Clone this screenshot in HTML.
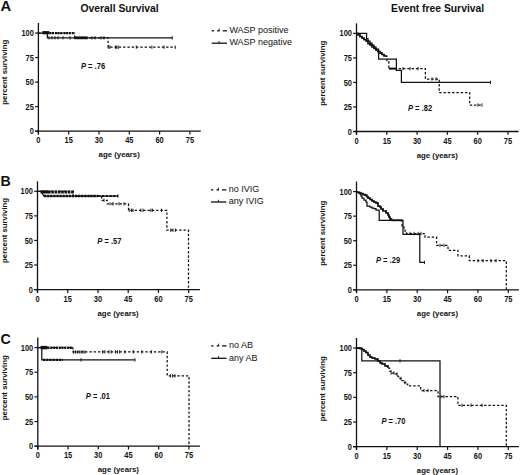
<!DOCTYPE html>
<html><head><meta charset="utf-8"><style>
html,body{margin:0;padding:0;background:#fff;}
svg{display:block;}
text{font-family:"Liberation Sans", sans-serif;fill:#111;}
</style></head><body>
<svg width="520" height="475" viewBox="0 0 520 475">
<rect width="520" height="475" fill="#fff"/>
<text x="0.50" y="10.70" font-size="14.8" font-weight="bold" text-anchor="start">A</text>
<text x="119.60" y="11.60" font-size="10.35" font-weight="bold" text-anchor="middle">Overall Survival</text>
<text x="437.60" y="11.80" font-size="10.35" font-weight="bold" text-anchor="middle">Event free Survival</text>
<line x1="38.40" y1="23.00" x2="38.40" y2="134.50" stroke="#111" stroke-width="1.3"/>
<line x1="35.10" y1="131.20" x2="200.80" y2="131.20" stroke="#111" stroke-width="1.3"/>
<line x1="35.10" y1="131.20" x2="38.40" y2="131.20" stroke="#111" stroke-width="1.2"/>
<text x="0" y="0" font-size="8" font-weight="bold" text-anchor="end" transform="translate(33.80,134.25) scale(0.93,1.12)">0</text>
<line x1="35.10" y1="106.65" x2="38.40" y2="106.65" stroke="#111" stroke-width="1.2"/>
<text x="0" y="0" font-size="8" font-weight="bold" text-anchor="end" transform="translate(33.80,109.70) scale(0.93,1.12)">25</text>
<line x1="35.10" y1="82.10" x2="38.40" y2="82.10" stroke="#111" stroke-width="1.2"/>
<text x="0" y="0" font-size="8" font-weight="bold" text-anchor="end" transform="translate(33.80,85.15) scale(0.93,1.12)">50</text>
<line x1="35.10" y1="57.55" x2="38.40" y2="57.55" stroke="#111" stroke-width="1.2"/>
<text x="0" y="0" font-size="8" font-weight="bold" text-anchor="end" transform="translate(33.80,60.60) scale(0.93,1.12)">75</text>
<line x1="35.10" y1="33.00" x2="38.40" y2="33.00" stroke="#111" stroke-width="1.2"/>
<text x="0" y="0" font-size="8" font-weight="bold" text-anchor="end" transform="translate(33.80,36.05) scale(0.93,1.12)">100</text>
<line x1="38.40" y1="131.20" x2="38.40" y2="134.50" stroke="#111" stroke-width="1.2"/>
<text x="0" y="0" font-size="8" font-weight="bold" text-anchor="middle" transform="translate(38.40,143.20) scale(0.93,1.12)">0</text>
<line x1="68.70" y1="131.20" x2="68.70" y2="134.50" stroke="#111" stroke-width="1.2"/>
<text x="0" y="0" font-size="8" font-weight="bold" text-anchor="middle" transform="translate(68.70,143.20) scale(0.93,1.12)">15</text>
<line x1="99.00" y1="131.20" x2="99.00" y2="134.50" stroke="#111" stroke-width="1.2"/>
<text x="0" y="0" font-size="8" font-weight="bold" text-anchor="middle" transform="translate(99.00,143.20) scale(0.93,1.12)">30</text>
<line x1="129.30" y1="131.20" x2="129.30" y2="134.50" stroke="#111" stroke-width="1.2"/>
<text x="0" y="0" font-size="8" font-weight="bold" text-anchor="middle" transform="translate(129.30,143.20) scale(0.93,1.12)">45</text>
<line x1="159.60" y1="131.20" x2="159.60" y2="134.50" stroke="#111" stroke-width="1.2"/>
<text x="0" y="0" font-size="8" font-weight="bold" text-anchor="middle" transform="translate(159.60,143.20) scale(0.93,1.12)">60</text>
<line x1="189.90" y1="131.20" x2="189.90" y2="134.50" stroke="#111" stroke-width="1.2"/>
<text x="0" y="0" font-size="8" font-weight="bold" text-anchor="middle" transform="translate(189.90,143.20) scale(0.93,1.12)">75</text>
<text x="119.20" y="157.20" font-size="7.8" font-weight="bold" text-anchor="middle">age (years)</text>
<text x="0" y="0" font-size="7.8" font-weight="bold" text-anchor="middle" transform="translate(6.95,72.20) rotate(-90)">percent surviving</text>
<line x1="356.50" y1="23.40" x2="356.50" y2="134.80" stroke="#111" stroke-width="1.3"/>
<line x1="353.20" y1="131.50" x2="518.60" y2="131.50" stroke="#111" stroke-width="1.3"/>
<line x1="353.20" y1="131.50" x2="356.50" y2="131.50" stroke="#111" stroke-width="1.2"/>
<text x="0" y="0" font-size="8" font-weight="bold" text-anchor="end" transform="translate(351.90,134.55) scale(0.93,1.12)">0</text>
<line x1="353.20" y1="106.97" x2="356.50" y2="106.97" stroke="#111" stroke-width="1.2"/>
<text x="0" y="0" font-size="8" font-weight="bold" text-anchor="end" transform="translate(351.90,110.02) scale(0.93,1.12)">25</text>
<line x1="353.20" y1="82.45" x2="356.50" y2="82.45" stroke="#111" stroke-width="1.2"/>
<text x="0" y="0" font-size="8" font-weight="bold" text-anchor="end" transform="translate(351.90,85.50) scale(0.93,1.12)">50</text>
<line x1="353.20" y1="57.92" x2="356.50" y2="57.92" stroke="#111" stroke-width="1.2"/>
<text x="0" y="0" font-size="8" font-weight="bold" text-anchor="end" transform="translate(351.90,60.97) scale(0.93,1.12)">75</text>
<line x1="353.20" y1="33.40" x2="356.50" y2="33.40" stroke="#111" stroke-width="1.2"/>
<text x="0" y="0" font-size="8" font-weight="bold" text-anchor="end" transform="translate(351.90,36.45) scale(0.93,1.12)">100</text>
<line x1="356.50" y1="131.50" x2="356.50" y2="134.80" stroke="#111" stroke-width="1.2"/>
<text x="0" y="0" font-size="8" font-weight="bold" text-anchor="middle" transform="translate(356.50,143.50) scale(0.93,1.12)">0</text>
<line x1="386.80" y1="131.50" x2="386.80" y2="134.80" stroke="#111" stroke-width="1.2"/>
<text x="0" y="0" font-size="8" font-weight="bold" text-anchor="middle" transform="translate(386.80,143.50) scale(0.93,1.12)">15</text>
<line x1="417.10" y1="131.50" x2="417.10" y2="134.80" stroke="#111" stroke-width="1.2"/>
<text x="0" y="0" font-size="8" font-weight="bold" text-anchor="middle" transform="translate(417.10,143.50) scale(0.93,1.12)">30</text>
<line x1="447.40" y1="131.50" x2="447.40" y2="134.80" stroke="#111" stroke-width="1.2"/>
<text x="0" y="0" font-size="8" font-weight="bold" text-anchor="middle" transform="translate(447.40,143.50) scale(0.93,1.12)">45</text>
<line x1="477.70" y1="131.50" x2="477.70" y2="134.80" stroke="#111" stroke-width="1.2"/>
<text x="0" y="0" font-size="8" font-weight="bold" text-anchor="middle" transform="translate(477.70,143.50) scale(0.93,1.12)">60</text>
<line x1="508.00" y1="131.50" x2="508.00" y2="134.80" stroke="#111" stroke-width="1.2"/>
<text x="0" y="0" font-size="8" font-weight="bold" text-anchor="middle" transform="translate(508.00,143.50) scale(0.93,1.12)">75</text>
<text x="437.30" y="157.50" font-size="7.8" font-weight="bold" text-anchor="middle">age (years)</text>
<text x="0" y="0" font-size="7.8" font-weight="bold" text-anchor="middle" transform="translate(324.90,73.20) rotate(-90)">percent surviving</text>
<path d="M38.4,33 H47.4 V37.8 H172.3" fill="none" stroke="#111" stroke-width="1.25"/>
<line x1="49.00" y1="36.10" x2="49.00" y2="39.50" stroke="#111" stroke-width="0.9"/>
<line x1="52.00" y1="36.10" x2="52.00" y2="39.50" stroke="#111" stroke-width="0.9"/>
<line x1="55.00" y1="36.10" x2="55.00" y2="39.50" stroke="#111" stroke-width="0.9"/>
<line x1="58.00" y1="36.10" x2="58.00" y2="39.50" stroke="#111" stroke-width="0.9"/>
<line x1="63.00" y1="36.10" x2="63.00" y2="39.50" stroke="#111" stroke-width="0.9"/>
<line x1="70.00" y1="36.10" x2="70.00" y2="39.50" stroke="#111" stroke-width="0.9"/>
<line x1="75.00" y1="36.10" x2="75.00" y2="39.50" stroke="#111" stroke-width="0.9"/>
<line x1="77.00" y1="36.10" x2="77.00" y2="39.50" stroke="#111" stroke-width="0.9"/>
<line x1="79.00" y1="36.10" x2="79.00" y2="39.50" stroke="#111" stroke-width="0.9"/>
<line x1="81.00" y1="36.10" x2="81.00" y2="39.50" stroke="#111" stroke-width="0.9"/>
<line x1="83.00" y1="36.10" x2="83.00" y2="39.50" stroke="#111" stroke-width="0.9"/>
<line x1="85.00" y1="36.10" x2="85.00" y2="39.50" stroke="#111" stroke-width="0.9"/>
<line x1="87.00" y1="36.10" x2="87.00" y2="39.50" stroke="#111" stroke-width="0.9"/>
<line x1="92.00" y1="36.10" x2="92.00" y2="39.50" stroke="#111" stroke-width="0.9"/>
<line x1="95.00" y1="36.10" x2="95.00" y2="39.50" stroke="#111" stroke-width="0.9"/>
<line x1="101.00" y1="36.10" x2="101.00" y2="39.50" stroke="#111" stroke-width="0.9"/>
<line x1="104.00" y1="36.10" x2="104.00" y2="39.50" stroke="#111" stroke-width="0.9"/>
<line x1="172.30" y1="36.10" x2="172.30" y2="39.50" stroke="#111" stroke-width="0.9"/>
<rect x="42.30" y="31.10" width="7.00" height="3.20" fill="#111"/>
<rect x="75.00" y="36.70" width="12.00" height="2.20" fill="#111"/>
<line x1="49.30" y1="33.20" x2="74.50" y2="33.20" stroke="#111" stroke-width="2.2" stroke-dasharray="2.0,0.8"/>
<path d="M38.4,33 H74.6 V37.8 H108.1 V47.2 H175.3" fill="none" stroke="#111" stroke-width="1.25" stroke-dasharray="2.4,1.9"/>
<line x1="108.70" y1="45.50" x2="108.70" y2="48.90" stroke="#111" stroke-width="0.9"/>
<line x1="109.90" y1="45.50" x2="109.90" y2="48.90" stroke="#111" stroke-width="0.9"/>
<line x1="115.60" y1="45.50" x2="115.60" y2="48.90" stroke="#111" stroke-width="0.9"/>
<line x1="116.80" y1="45.50" x2="116.80" y2="48.90" stroke="#111" stroke-width="0.9"/>
<line x1="118.20" y1="45.50" x2="118.20" y2="48.90" stroke="#111" stroke-width="0.9"/>
<line x1="136.30" y1="45.50" x2="136.30" y2="48.90" stroke="#111" stroke-width="0.9"/>
<line x1="151.90" y1="45.50" x2="151.90" y2="48.90" stroke="#111" stroke-width="0.9"/>
<line x1="164.00" y1="45.50" x2="164.00" y2="48.90" stroke="#111" stroke-width="0.9"/>
<line x1="175.30" y1="45.50" x2="175.30" y2="48.90" stroke="#111" stroke-width="0.9"/>
<text x="0" y="0" font-size="7.9" font-weight="bold" transform="translate(81.00,69.20) scale(0.955,1.1)"><tspan font-style="italic">P</tspan> = .76</text>
<line x1="211.70" y1="30.80" x2="214.00" y2="30.80" stroke="#111" stroke-width="1.3"/>
<line x1="217.20" y1="30.80" x2="219.70" y2="30.80" stroke="#111" stroke-width="1.3"/>
<line x1="222.70" y1="30.80" x2="227.00" y2="30.80" stroke="#111" stroke-width="1.3"/>
<line x1="219.10" y1="28.60" x2="219.10" y2="30.80" stroke="#111" stroke-width="0.9"/>
<text x="229.40" y="33.05" font-size="9.0" font-weight="normal" text-anchor="start" fill="#333">WASP positive</text>
<line x1="211.70" y1="43.20" x2="227.00" y2="43.20" stroke="#111" stroke-width="1.3"/>
<line x1="219.10" y1="41.00" x2="219.10" y2="43.20" stroke="#111" stroke-width="0.9"/>
<text x="229.40" y="45.45" font-size="9.0" font-weight="normal" text-anchor="start" fill="#333">WASP negative</text>
<path d="M356.5,33.4 H366.6 V38.7 H368 V41 H370 V43 H372 V45 H374 V47 H376 V49 H378.6 V59 H396.4 V70.4 H401.4 V82.4 H490.5" fill="none" stroke="#111" stroke-width="1.25"/>
<path d="M356.5,33.4 H358 V35 H360 V36.5 H362 V38 H364 V39.5 H366 V41 H368 V43.5 H370 V45 H372 V47 H374 V48.5 H376 V50 H378 V51.5 H380 V53 H382 V54.5 H384 V56 H386.9 V61.5 H388.8 V68.6 H425.4 V79 H439.2 V92.6 H469.7 V105 H482" fill="none" stroke="#111" stroke-width="1.25" stroke-dasharray="2.4,1.9"/>
<path d="M357,33.6 H358 V35 H360 V36.5 H362 V38 H364 V39.5 H366 V41 H368 V43.5 H370 V45 H372 V47 H374 V48.5 H376 V50 H378 V51.5 H380 V53 H382 V54.5 H384 V56 H386.9" fill="none" stroke="#111" stroke-width="1.7"/>
<path d="M388.8,68.6 H397" fill="none" stroke="#111" stroke-width="2.0"/>
<line x1="490.50" y1="80.70" x2="490.50" y2="84.10" stroke="#111" stroke-width="0.9"/>
<line x1="478.00" y1="103.30" x2="478.00" y2="106.70" stroke="#111" stroke-width="0.9"/>
<line x1="482.00" y1="103.30" x2="482.00" y2="106.70" stroke="#111" stroke-width="0.9"/>
<line x1="432.00" y1="77.30" x2="432.00" y2="80.70" stroke="#111" stroke-width="0.9"/>
<line x1="436.00" y1="77.30" x2="436.00" y2="80.70" stroke="#111" stroke-width="0.9"/>
<line x1="403.00" y1="66.90" x2="403.00" y2="70.30" stroke="#111" stroke-width="0.9"/>
<line x1="410.00" y1="66.90" x2="410.00" y2="70.30" stroke="#111" stroke-width="0.9"/>
<line x1="418.00" y1="66.90" x2="418.00" y2="70.30" stroke="#111" stroke-width="0.9"/>
<text x="0" y="0" font-size="7.9" font-weight="bold" transform="translate(408.00,111.10) scale(0.955,1.1)"><tspan font-style="italic">P</tspan> = .82</text>
<text x="0.40" y="186.40" font-size="14.2" font-weight="bold" text-anchor="start">B</text>
<line x1="37.50" y1="181.30" x2="37.50" y2="292.90" stroke="#111" stroke-width="1.3"/>
<line x1="34.20" y1="289.60" x2="199.90" y2="289.60" stroke="#111" stroke-width="1.3"/>
<line x1="34.20" y1="289.60" x2="37.50" y2="289.60" stroke="#111" stroke-width="1.2"/>
<text x="0" y="0" font-size="8" font-weight="bold" text-anchor="end" transform="translate(32.90,292.65) scale(0.93,1.12)">0</text>
<line x1="34.20" y1="265.03" x2="37.50" y2="265.03" stroke="#111" stroke-width="1.2"/>
<text x="0" y="0" font-size="8" font-weight="bold" text-anchor="end" transform="translate(32.90,268.08) scale(0.93,1.12)">25</text>
<line x1="34.20" y1="240.45" x2="37.50" y2="240.45" stroke="#111" stroke-width="1.2"/>
<text x="0" y="0" font-size="8" font-weight="bold" text-anchor="end" transform="translate(32.90,243.50) scale(0.93,1.12)">50</text>
<line x1="34.20" y1="215.88" x2="37.50" y2="215.88" stroke="#111" stroke-width="1.2"/>
<text x="0" y="0" font-size="8" font-weight="bold" text-anchor="end" transform="translate(32.90,218.93) scale(0.93,1.12)">75</text>
<line x1="34.20" y1="191.30" x2="37.50" y2="191.30" stroke="#111" stroke-width="1.2"/>
<text x="0" y="0" font-size="8" font-weight="bold" text-anchor="end" transform="translate(32.90,194.35) scale(0.93,1.12)">100</text>
<line x1="37.50" y1="289.60" x2="37.50" y2="292.90" stroke="#111" stroke-width="1.2"/>
<text x="0" y="0" font-size="8" font-weight="bold" text-anchor="middle" transform="translate(37.50,301.60) scale(0.93,1.12)">0</text>
<line x1="67.74" y1="289.60" x2="67.74" y2="292.90" stroke="#111" stroke-width="1.2"/>
<text x="0" y="0" font-size="8" font-weight="bold" text-anchor="middle" transform="translate(67.74,301.60) scale(0.93,1.12)">15</text>
<line x1="97.98" y1="289.60" x2="97.98" y2="292.90" stroke="#111" stroke-width="1.2"/>
<text x="0" y="0" font-size="8" font-weight="bold" text-anchor="middle" transform="translate(97.98,301.60) scale(0.93,1.12)">30</text>
<line x1="128.22" y1="289.60" x2="128.22" y2="292.90" stroke="#111" stroke-width="1.2"/>
<text x="0" y="0" font-size="8" font-weight="bold" text-anchor="middle" transform="translate(128.22,301.60) scale(0.93,1.12)">45</text>
<line x1="158.46" y1="289.60" x2="158.46" y2="292.90" stroke="#111" stroke-width="1.2"/>
<text x="0" y="0" font-size="8" font-weight="bold" text-anchor="middle" transform="translate(158.46,301.60) scale(0.93,1.12)">60</text>
<line x1="188.70" y1="289.60" x2="188.70" y2="292.90" stroke="#111" stroke-width="1.2"/>
<text x="0" y="0" font-size="8" font-weight="bold" text-anchor="middle" transform="translate(188.70,301.60) scale(0.93,1.12)">75</text>
<text x="118.14" y="315.60" font-size="7.8" font-weight="bold" text-anchor="middle">age (years)</text>
<text x="0" y="0" font-size="7.8" font-weight="bold" text-anchor="middle" transform="translate(6.95,230.40) rotate(-90)">percent surviving</text>
<line x1="356.50" y1="181.60" x2="356.50" y2="293.10" stroke="#111" stroke-width="1.3"/>
<line x1="353.20" y1="289.80" x2="518.90" y2="289.80" stroke="#111" stroke-width="1.3"/>
<line x1="353.20" y1="289.80" x2="356.50" y2="289.80" stroke="#111" stroke-width="1.2"/>
<text x="0" y="0" font-size="8" font-weight="bold" text-anchor="end" transform="translate(351.90,292.85) scale(0.93,1.12)">0</text>
<line x1="353.20" y1="265.25" x2="356.50" y2="265.25" stroke="#111" stroke-width="1.2"/>
<text x="0" y="0" font-size="8" font-weight="bold" text-anchor="end" transform="translate(351.90,268.30) scale(0.93,1.12)">25</text>
<line x1="353.20" y1="240.70" x2="356.50" y2="240.70" stroke="#111" stroke-width="1.2"/>
<text x="0" y="0" font-size="8" font-weight="bold" text-anchor="end" transform="translate(351.90,243.75) scale(0.93,1.12)">50</text>
<line x1="353.20" y1="216.15" x2="356.50" y2="216.15" stroke="#111" stroke-width="1.2"/>
<text x="0" y="0" font-size="8" font-weight="bold" text-anchor="end" transform="translate(351.90,219.20) scale(0.93,1.12)">75</text>
<line x1="353.20" y1="191.60" x2="356.50" y2="191.60" stroke="#111" stroke-width="1.2"/>
<text x="0" y="0" font-size="8" font-weight="bold" text-anchor="end" transform="translate(351.90,194.65) scale(0.93,1.12)">100</text>
<line x1="356.50" y1="289.80" x2="356.50" y2="293.10" stroke="#111" stroke-width="1.2"/>
<text x="0" y="0" font-size="8" font-weight="bold" text-anchor="middle" transform="translate(356.50,301.80) scale(0.93,1.12)">0</text>
<line x1="386.86" y1="289.80" x2="386.86" y2="293.10" stroke="#111" stroke-width="1.2"/>
<text x="0" y="0" font-size="8" font-weight="bold" text-anchor="middle" transform="translate(386.86,301.80) scale(0.93,1.12)">15</text>
<line x1="417.22" y1="289.80" x2="417.22" y2="293.10" stroke="#111" stroke-width="1.2"/>
<text x="0" y="0" font-size="8" font-weight="bold" text-anchor="middle" transform="translate(417.22,301.80) scale(0.93,1.12)">30</text>
<line x1="447.58" y1="289.80" x2="447.58" y2="293.10" stroke="#111" stroke-width="1.2"/>
<text x="0" y="0" font-size="8" font-weight="bold" text-anchor="middle" transform="translate(447.58,301.80) scale(0.93,1.12)">45</text>
<line x1="477.94" y1="289.80" x2="477.94" y2="293.10" stroke="#111" stroke-width="1.2"/>
<text x="0" y="0" font-size="8" font-weight="bold" text-anchor="middle" transform="translate(477.94,301.80) scale(0.93,1.12)">60</text>
<line x1="508.30" y1="289.80" x2="508.30" y2="293.10" stroke="#111" stroke-width="1.2"/>
<text x="0" y="0" font-size="8" font-weight="bold" text-anchor="middle" transform="translate(508.30,301.80) scale(0.93,1.12)">75</text>
<text x="437.46" y="315.80" font-size="7.8" font-weight="bold" text-anchor="middle">age (years)</text>
<text x="0" y="0" font-size="7.8" font-weight="bold" text-anchor="middle" transform="translate(324.90,233.20) rotate(-90)">percent surviving</text>
<rect x="40.50" y="190.30" width="7.50" height="3.20" fill="#111"/>
<line x1="48.00" y1="191.90" x2="74.00" y2="191.90" stroke="#111" stroke-width="3.0" stroke-dasharray="2.6,0.7"/>
<path d="M37.5,191.3 H41 L44,196.0 H118" fill="none" stroke="#111" stroke-width="1.25"/>
<line x1="44.00" y1="196.00" x2="98.00" y2="196.00" stroke="#111" stroke-width="2.5" stroke-dasharray="2.2,0.9"/>
<line x1="98.00" y1="196.00" x2="118.00" y2="196.00" stroke="#111" stroke-width="2.0" stroke-dasharray="2.4,1.4"/>
<line x1="118.00" y1="194.30" x2="118.00" y2="197.70" stroke="#111" stroke-width="0.9"/>
<path d="M37.5,191.3 H73.3 V196.0 H101.6 V200.3 H107.3 V203.8 H128.5 V210.3 H166.9 V230.2 H188.5 V289.6" fill="none" stroke="#111" stroke-width="1.25" stroke-dasharray="2.4,1.9"/>
<line x1="104.00" y1="198.60" x2="104.00" y2="202.00" stroke="#111" stroke-width="0.9"/>
<line x1="110.00" y1="202.10" x2="110.00" y2="205.50" stroke="#111" stroke-width="0.9"/>
<line x1="113.00" y1="202.10" x2="113.00" y2="205.50" stroke="#111" stroke-width="0.9"/>
<line x1="119.00" y1="202.10" x2="119.00" y2="205.50" stroke="#111" stroke-width="0.9"/>
<line x1="124.00" y1="202.10" x2="124.00" y2="205.50" stroke="#111" stroke-width="0.9"/>
<line x1="129.20" y1="208.60" x2="129.20" y2="212.00" stroke="#111" stroke-width="0.9"/>
<line x1="131.50" y1="208.60" x2="131.50" y2="212.00" stroke="#111" stroke-width="0.9"/>
<line x1="133.00" y1="208.60" x2="133.00" y2="212.00" stroke="#111" stroke-width="0.9"/>
<line x1="140.80" y1="208.60" x2="140.80" y2="212.00" stroke="#111" stroke-width="0.9"/>
<line x1="143.00" y1="208.60" x2="143.00" y2="212.00" stroke="#111" stroke-width="0.9"/>
<line x1="150.80" y1="208.60" x2="150.80" y2="212.00" stroke="#111" stroke-width="0.9"/>
<line x1="152.30" y1="208.60" x2="152.30" y2="212.00" stroke="#111" stroke-width="0.9"/>
<line x1="161.50" y1="208.60" x2="161.50" y2="212.00" stroke="#111" stroke-width="0.9"/>
<line x1="170.80" y1="228.50" x2="170.80" y2="231.90" stroke="#111" stroke-width="0.9"/>
<line x1="173.00" y1="228.50" x2="173.00" y2="231.90" stroke="#111" stroke-width="0.9"/>
<line x1="175.40" y1="228.50" x2="175.40" y2="231.90" stroke="#111" stroke-width="0.9"/>
<text x="0" y="0" font-size="7.9" font-weight="bold" transform="translate(97.30,244.10) scale(0.955,1.1)"><tspan font-style="italic">P</tspan> = .57</text>
<line x1="211.00" y1="189.90" x2="213.30" y2="189.90" stroke="#111" stroke-width="1.3"/>
<line x1="216.50" y1="189.90" x2="219.00" y2="189.90" stroke="#111" stroke-width="1.3"/>
<line x1="222.00" y1="189.90" x2="226.30" y2="189.90" stroke="#111" stroke-width="1.3"/>
<line x1="218.40" y1="187.70" x2="218.40" y2="189.90" stroke="#111" stroke-width="0.9"/>
<text x="228.70" y="192.15" font-size="9.0" font-weight="normal" text-anchor="start" fill="#333">no IVIG</text>
<line x1="211.00" y1="202.00" x2="226.30" y2="202.00" stroke="#111" stroke-width="1.3"/>
<line x1="218.40" y1="199.80" x2="218.40" y2="202.00" stroke="#111" stroke-width="0.9"/>
<text x="228.70" y="204.25" font-size="9.0" font-weight="normal" text-anchor="start" fill="#333">any IVIG</text>
<path d="M356.5,192.0 H357.4 V192.3 H360 V194 H361 V196 H362 V198 H364 V200 H366 V202 H367 V206 H370 V207 H372 V208 H374 V208.5 H376 V210 H379.2 V220.3 H403 V234.3 H419.8 V262.4 H424.5" fill="none" stroke="#111" stroke-width="1.25"/>
<path d="M356.5,192.0 H357.4 V192.3 H359 V193 H361 V193.5 H363 V194.5 H365 V195.2 H366.6 V196.5 H368 V198 H370 V199.5 H372 V201 H374 V202 H376 V203 H378 V206 H380 V207 H381 V209 H383 V211 H386 V213 H388 V215 H389 V217 H390 V219 H392 V220.3 H402 V226 H404 V228 H405 V231 H406.5 V233.5 H425 V237.2 H436.6 V245.4 H448 V250.3 H457.9 V255.8 H469.3 V260.7 H506.3 V289.6" fill="none" stroke="#111" stroke-width="1.25" stroke-dasharray="2.4,1.9"/>
<path d="M356.5,192.0 H357.4 V192.3 H359 V193 H361 V193.5 H363 V194.5 H365 V195.2 H366.6 V196.5 H368 V198 H370 V199.5 H372 V201 H374 V202 H376 V203 H378 V206 H380 V207 H381 V209 H383 V211 H386 V213 H388 V215 H389 V217 H390 V219 H392" fill="none" stroke="#111" stroke-width="1.7"/>
<path d="M392,220.3 H402" fill="none" stroke="#111" stroke-width="1.8"/>
<line x1="424.50" y1="260.70" x2="424.50" y2="264.10" stroke="#111" stroke-width="0.9"/>
<line x1="410.00" y1="231.80" x2="410.00" y2="235.20" stroke="#111" stroke-width="0.9"/>
<line x1="414.00" y1="231.80" x2="414.00" y2="235.20" stroke="#111" stroke-width="0.9"/>
<line x1="418.00" y1="231.80" x2="418.00" y2="235.20" stroke="#111" stroke-width="0.9"/>
<line x1="421.00" y1="231.80" x2="421.00" y2="235.20" stroke="#111" stroke-width="0.9"/>
<line x1="478.00" y1="259.00" x2="478.00" y2="262.40" stroke="#111" stroke-width="0.9"/>
<line x1="483.00" y1="259.00" x2="483.00" y2="262.40" stroke="#111" stroke-width="0.9"/>
<line x1="491.00" y1="259.00" x2="491.00" y2="262.40" stroke="#111" stroke-width="0.9"/>
<line x1="496.00" y1="259.00" x2="496.00" y2="262.40" stroke="#111" stroke-width="0.9"/>
<line x1="440.00" y1="243.70" x2="440.00" y2="247.10" stroke="#111" stroke-width="0.9"/>
<line x1="444.00" y1="243.70" x2="444.00" y2="247.10" stroke="#111" stroke-width="0.9"/>
<text x="0" y="0" font-size="7.9" font-weight="bold" transform="translate(376.00,263.10) scale(0.955,1.1)"><tspan font-style="italic">P</tspan> = .29</text>
<text x="0.40" y="343.90" font-size="14.2" font-weight="bold" text-anchor="start">C</text>
<line x1="37.80" y1="337.60" x2="37.80" y2="449.50" stroke="#111" stroke-width="1.3"/>
<line x1="34.50" y1="446.20" x2="199.90" y2="446.20" stroke="#111" stroke-width="1.3"/>
<line x1="34.50" y1="446.20" x2="37.80" y2="446.20" stroke="#111" stroke-width="1.2"/>
<text x="0" y="0" font-size="8" font-weight="bold" text-anchor="end" transform="translate(33.20,449.25) scale(0.93,1.12)">0</text>
<line x1="34.50" y1="421.55" x2="37.80" y2="421.55" stroke="#111" stroke-width="1.2"/>
<text x="0" y="0" font-size="8" font-weight="bold" text-anchor="end" transform="translate(33.20,424.60) scale(0.93,1.12)">25</text>
<line x1="34.50" y1="396.90" x2="37.80" y2="396.90" stroke="#111" stroke-width="1.2"/>
<text x="0" y="0" font-size="8" font-weight="bold" text-anchor="end" transform="translate(33.20,399.95) scale(0.93,1.12)">50</text>
<line x1="34.50" y1="372.25" x2="37.80" y2="372.25" stroke="#111" stroke-width="1.2"/>
<text x="0" y="0" font-size="8" font-weight="bold" text-anchor="end" transform="translate(33.20,375.30) scale(0.93,1.12)">75</text>
<line x1="34.50" y1="347.60" x2="37.80" y2="347.60" stroke="#111" stroke-width="1.2"/>
<text x="0" y="0" font-size="8" font-weight="bold" text-anchor="end" transform="translate(33.20,350.65) scale(0.93,1.12)">100</text>
<line x1="37.80" y1="446.20" x2="37.80" y2="449.50" stroke="#111" stroke-width="1.2"/>
<text x="0" y="0" font-size="8" font-weight="bold" text-anchor="middle" transform="translate(37.80,458.20) scale(0.93,1.12)">0</text>
<line x1="68.02" y1="446.20" x2="68.02" y2="449.50" stroke="#111" stroke-width="1.2"/>
<text x="0" y="0" font-size="8" font-weight="bold" text-anchor="middle" transform="translate(68.02,458.20) scale(0.93,1.12)">15</text>
<line x1="98.24" y1="446.20" x2="98.24" y2="449.50" stroke="#111" stroke-width="1.2"/>
<text x="0" y="0" font-size="8" font-weight="bold" text-anchor="middle" transform="translate(98.24,458.20) scale(0.93,1.12)">30</text>
<line x1="128.46" y1="446.20" x2="128.46" y2="449.50" stroke="#111" stroke-width="1.2"/>
<text x="0" y="0" font-size="8" font-weight="bold" text-anchor="middle" transform="translate(128.46,458.20) scale(0.93,1.12)">45</text>
<line x1="158.68" y1="446.20" x2="158.68" y2="449.50" stroke="#111" stroke-width="1.2"/>
<text x="0" y="0" font-size="8" font-weight="bold" text-anchor="middle" transform="translate(158.68,458.20) scale(0.93,1.12)">60</text>
<line x1="188.90" y1="446.20" x2="188.90" y2="449.50" stroke="#111" stroke-width="1.2"/>
<text x="0" y="0" font-size="8" font-weight="bold" text-anchor="middle" transform="translate(188.90,458.20) scale(0.93,1.12)">75</text>
<text x="118.39" y="472.20" font-size="7.8" font-weight="bold" text-anchor="middle">age (years)</text>
<text x="0" y="0" font-size="7.8" font-weight="bold" text-anchor="middle" transform="translate(6.95,387.70) rotate(-90)">percent surviving</text>
<line x1="356.50" y1="338.00" x2="356.50" y2="450.00" stroke="#111" stroke-width="1.3"/>
<line x1="353.20" y1="446.70" x2="518.90" y2="446.70" stroke="#111" stroke-width="1.3"/>
<line x1="353.20" y1="446.70" x2="356.50" y2="446.70" stroke="#111" stroke-width="1.2"/>
<text x="0" y="0" font-size="8" font-weight="bold" text-anchor="end" transform="translate(351.90,449.75) scale(0.93,1.12)">0</text>
<line x1="353.20" y1="422.02" x2="356.50" y2="422.02" stroke="#111" stroke-width="1.2"/>
<text x="0" y="0" font-size="8" font-weight="bold" text-anchor="end" transform="translate(351.90,425.07) scale(0.93,1.12)">25</text>
<line x1="353.20" y1="397.35" x2="356.50" y2="397.35" stroke="#111" stroke-width="1.2"/>
<text x="0" y="0" font-size="8" font-weight="bold" text-anchor="end" transform="translate(351.90,400.40) scale(0.93,1.12)">50</text>
<line x1="353.20" y1="372.68" x2="356.50" y2="372.68" stroke="#111" stroke-width="1.2"/>
<text x="0" y="0" font-size="8" font-weight="bold" text-anchor="end" transform="translate(351.90,375.73) scale(0.93,1.12)">75</text>
<line x1="353.20" y1="348.00" x2="356.50" y2="348.00" stroke="#111" stroke-width="1.2"/>
<text x="0" y="0" font-size="8" font-weight="bold" text-anchor="end" transform="translate(351.90,351.05) scale(0.93,1.12)">100</text>
<line x1="356.50" y1="446.70" x2="356.50" y2="450.00" stroke="#111" stroke-width="1.2"/>
<text x="0" y="0" font-size="8" font-weight="bold" text-anchor="middle" transform="translate(356.50,458.70) scale(0.93,1.12)">0</text>
<line x1="386.86" y1="446.70" x2="386.86" y2="450.00" stroke="#111" stroke-width="1.2"/>
<text x="0" y="0" font-size="8" font-weight="bold" text-anchor="middle" transform="translate(386.86,458.70) scale(0.93,1.12)">15</text>
<line x1="417.22" y1="446.70" x2="417.22" y2="450.00" stroke="#111" stroke-width="1.2"/>
<text x="0" y="0" font-size="8" font-weight="bold" text-anchor="middle" transform="translate(417.22,458.70) scale(0.93,1.12)">30</text>
<line x1="447.58" y1="446.70" x2="447.58" y2="450.00" stroke="#111" stroke-width="1.2"/>
<text x="0" y="0" font-size="8" font-weight="bold" text-anchor="middle" transform="translate(447.58,458.70) scale(0.93,1.12)">45</text>
<line x1="477.94" y1="446.70" x2="477.94" y2="450.00" stroke="#111" stroke-width="1.2"/>
<text x="0" y="0" font-size="8" font-weight="bold" text-anchor="middle" transform="translate(477.94,458.70) scale(0.93,1.12)">60</text>
<line x1="508.30" y1="446.70" x2="508.30" y2="450.00" stroke="#111" stroke-width="1.2"/>
<text x="0" y="0" font-size="8" font-weight="bold" text-anchor="middle" transform="translate(508.30,458.70) scale(0.93,1.12)">75</text>
<text x="437.46" y="472.70" font-size="7.8" font-weight="bold" text-anchor="middle">age (years)</text>
<text x="0" y="0" font-size="7.8" font-weight="bold" text-anchor="middle" transform="translate(324.90,388.70) rotate(-90)">percent surviving</text>
<rect x="40.50" y="345.90" width="7.00" height="3.40" fill="#111"/>
<line x1="47.50" y1="347.70" x2="72.80" y2="347.70" stroke="#111" stroke-width="2.4" stroke-dasharray="2.0,0.8"/>
<path d="M37.8,347.6 H41.8 V359.9 H135" fill="none" stroke="#111" stroke-width="1.25"/>
<line x1="43.00" y1="359.90" x2="63.00" y2="359.90" stroke="#111" stroke-width="2.4" stroke-dasharray="2.2,1.0"/>
<line x1="81.00" y1="358.20" x2="81.00" y2="361.60" stroke="#111" stroke-width="0.9"/>
<line x1="135.00" y1="358.20" x2="135.00" y2="361.60" stroke="#111" stroke-width="0.9"/>
<path d="M37.8,347.6 H72.8 V351.9 H167.2 V375.8 H189 V446.2" fill="none" stroke="#111" stroke-width="1.25" stroke-dasharray="2.4,1.9"/>
<line x1="73.00" y1="351.90" x2="86.00" y2="351.90" stroke="#111" stroke-width="3.0" stroke-dasharray="1.1,0.8"/>
<line x1="102.70" y1="350.20" x2="102.70" y2="353.60" stroke="#111" stroke-width="0.9"/>
<line x1="104.80" y1="350.20" x2="104.80" y2="353.60" stroke="#111" stroke-width="0.9"/>
<line x1="109.00" y1="350.20" x2="109.00" y2="353.60" stroke="#111" stroke-width="0.9"/>
<line x1="111.20" y1="350.20" x2="111.20" y2="353.60" stroke="#111" stroke-width="0.9"/>
<line x1="115.40" y1="350.20" x2="115.40" y2="353.60" stroke="#111" stroke-width="0.9"/>
<line x1="117.50" y1="350.20" x2="117.50" y2="353.60" stroke="#111" stroke-width="0.9"/>
<line x1="119.60" y1="350.20" x2="119.60" y2="353.60" stroke="#111" stroke-width="0.9"/>
<line x1="124.90" y1="350.20" x2="124.90" y2="353.60" stroke="#111" stroke-width="0.9"/>
<line x1="133.40" y1="350.20" x2="133.40" y2="353.60" stroke="#111" stroke-width="0.9"/>
<line x1="141.80" y1="350.20" x2="141.80" y2="353.60" stroke="#111" stroke-width="0.9"/>
<line x1="151.30" y1="350.20" x2="151.30" y2="353.60" stroke="#111" stroke-width="0.9"/>
<line x1="161.90" y1="350.20" x2="161.90" y2="353.60" stroke="#111" stroke-width="0.9"/>
<line x1="170.50" y1="374.10" x2="170.50" y2="377.50" stroke="#111" stroke-width="0.9"/>
<line x1="172.50" y1="374.10" x2="172.50" y2="377.50" stroke="#111" stroke-width="0.9"/>
<line x1="175.00" y1="374.10" x2="175.00" y2="377.50" stroke="#111" stroke-width="0.9"/>
<text x="0" y="0" font-size="7.9" font-weight="bold" transform="translate(85.80,398.90) scale(0.955,1.1)"><tspan font-style="italic">P</tspan> = .01</text>
<line x1="211.20" y1="345.90" x2="213.50" y2="345.90" stroke="#111" stroke-width="1.3"/>
<line x1="216.70" y1="345.90" x2="219.20" y2="345.90" stroke="#111" stroke-width="1.3"/>
<line x1="222.20" y1="345.90" x2="226.50" y2="345.90" stroke="#111" stroke-width="1.3"/>
<line x1="218.60" y1="343.70" x2="218.60" y2="345.90" stroke="#111" stroke-width="0.9"/>
<text x="228.90" y="348.15" font-size="9.0" font-weight="normal" text-anchor="start" fill="#333">no AB</text>
<line x1="211.20" y1="358.30" x2="226.50" y2="358.30" stroke="#111" stroke-width="1.3"/>
<line x1="218.60" y1="356.10" x2="218.60" y2="358.30" stroke="#111" stroke-width="0.9"/>
<text x="228.90" y="360.55" font-size="9.0" font-weight="normal" text-anchor="start" fill="#333">any AB</text>
<path d="M356.5,348 H361.8 V360.8 H440 V446.1" fill="none" stroke="#111" stroke-width="1.25"/>
<line x1="400.00" y1="359.10" x2="400.00" y2="362.50" stroke="#111" stroke-width="0.9"/>
<path d="M356.5,348 H360 V348.6 H362 V349.5 H364 V351 H366 V352.5 H368 V355 H370 V357 H372 V358 H375 V359 H378 V361 H380 V363 H382 V364 H385 V366 H388 V368 H389.5 V371 H392 V373 H396 V374 H398 V376.5 H400 V378.5 H402 V380.5 H404.5 V382.5 H406 V384 H407.7 V385.9 H420.6 V390.5 H438 V396.6 H457.9 V405.3 H506.3 V446.1" fill="none" stroke="#111" stroke-width="1.25" stroke-dasharray="2.4,1.9"/>
<path d="M356.5,348 H360 V348.6 H362 V349.5 H364 V351 H366 V352.5 H368 V355 H370 V357 H372 V358 H375 V359 H378 V361 H380 V363 H382 V364 H385 V366 H388 V368" fill="none" stroke="#111" stroke-width="1.6"/>
<line x1="391.00" y1="371.30" x2="391.00" y2="374.70" stroke="#111" stroke-width="0.9"/>
<line x1="394.00" y1="371.30" x2="394.00" y2="374.70" stroke="#111" stroke-width="0.9"/>
<line x1="397.00" y1="372.30" x2="397.00" y2="375.70" stroke="#111" stroke-width="0.9"/>
<line x1="401.00" y1="376.80" x2="401.00" y2="380.20" stroke="#111" stroke-width="0.9"/>
<line x1="405.00" y1="380.80" x2="405.00" y2="384.20" stroke="#111" stroke-width="0.9"/>
<line x1="424.00" y1="388.80" x2="424.00" y2="392.20" stroke="#111" stroke-width="0.9"/>
<line x1="428.00" y1="388.80" x2="428.00" y2="392.20" stroke="#111" stroke-width="0.9"/>
<line x1="441.00" y1="394.90" x2="441.00" y2="398.30" stroke="#111" stroke-width="0.9"/>
<line x1="444.00" y1="394.90" x2="444.00" y2="398.30" stroke="#111" stroke-width="0.9"/>
<line x1="462.00" y1="403.60" x2="462.00" y2="407.00" stroke="#111" stroke-width="0.9"/>
<line x1="471.00" y1="403.60" x2="471.00" y2="407.00" stroke="#111" stroke-width="0.9"/>
<line x1="482.00" y1="403.60" x2="482.00" y2="407.00" stroke="#111" stroke-width="0.9"/>
<text x="0" y="0" font-size="7.9" font-weight="bold" transform="translate(381.40,424.20) scale(0.955,1.1)"><tspan font-style="italic">P</tspan> = .70</text>
</svg>
</body></html>
